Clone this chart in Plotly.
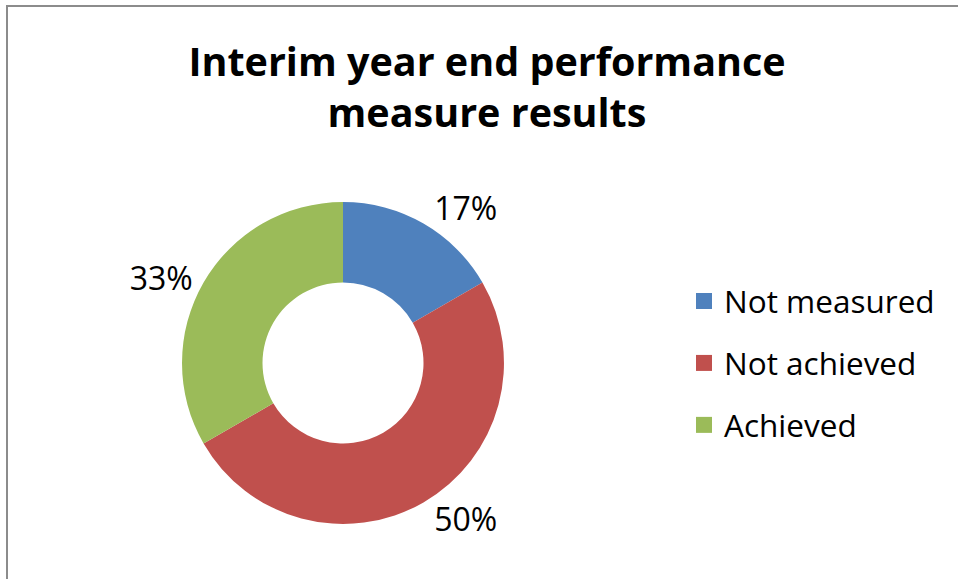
import plotly.graph_objects as go

title_text = "Interim year end performance<br>measure results"
labels = ["Not measured", "Not achieved", "Achieved"]
values = [1, 3, 2]
colors = ["#4F81BD", "#C0504D", "#9BBB59"]

W, H = 958, 579
cx, cy, r = 343, 363, 161

fig = go.Figure()
fig.add_trace(go.Pie(
    labels=labels, values=values, sort=False, direction="clockwise", rotation=0,
    hole=0.5, marker=dict(colors=colors, line=dict(width=0)),
    textposition="outside", texttemplate="%{percent:.0%}",
    textfont=dict(family="Open Sans", size=32, color="#000000"),
    showlegend=False, hoverinfo="label+percent",
    domain=dict(x=[(cx - r) / W, (cx + r) / W], y=[(H - cy - r) / H, (H - cy + r) / H]),
))
for lab, col in zip(labels, colors):
    fig.add_trace(go.Scatter(
        x=[None], y=[None], mode="markers", name=lab, legendgroup=lab,
        marker=dict(symbol="square", size=16, color=col), showlegend=True,
    ))

fig.update_layout(
    width=W, height=H, margin=dict(l=0, r=0, t=0, b=0),
    paper_bgcolor="white", plot_bgcolor="white",
    title=dict(text=title_text, x=487 / W, xanchor="center", y=1 - 76 / H, yanchor="middle",
               font=dict(family="Open Sans", size=39.5, color="#000000", weight="bold")),
    xaxis=dict(visible=False), yaxis=dict(visible=False),
    legend=dict(x=684 / W, xanchor="left", y=1 - 363 / H, yanchor="middle",
                font=dict(family="Open Sans", size=31.5, color="#000000"),
                tracegroupgap=18, bgcolor="rgba(0,0,0,0)"),
    shapes=[dict(type="rect", xref="paper", yref="paper",
                 x0=7 / W, x1=1.2, y0=-0.2, y1=1 - 6 / H,
                 line=dict(color="#8C8C8C", width=2), fillcolor="rgba(0,0,0,0)", layer="below")],
)
fig.write_html("out.html", config={"displayModeBar": False},
               post_script="document.body.style.margin='0';document.body.style.overflow='hidden';")
